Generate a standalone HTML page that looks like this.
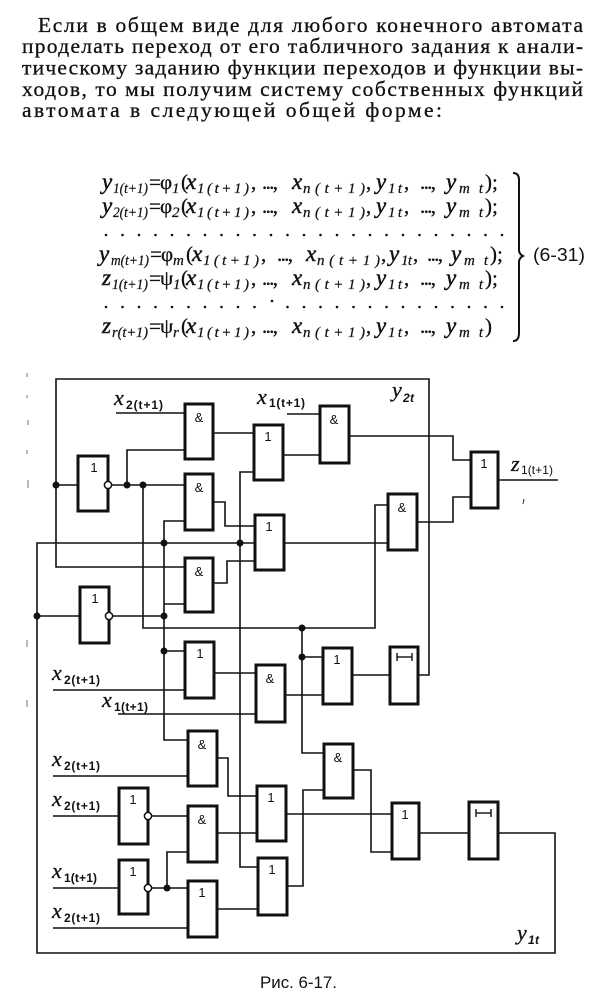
<!DOCTYPE html>
<html><head><meta charset="utf-8"><style>
html,body{margin:0;padding:0;background:#fff;}
svg{display:block;}
.t{font-family:"Liberation Serif",serif;font-size:21.5px;fill:#111;stroke:#111;stroke-width:0.3;}
.mi{font-family:"Liberation Serif",serif;font-style:italic;font-size:23px;fill:#111;stroke:#111;stroke-width:0.45;}
.mo{font-family:"Liberation Serif",serif;font-size:21px;fill:#111;stroke:#111;stroke-width:0.3;}
.sb{font-family:"Liberation Serif",serif;font-style:italic;font-size:15px;fill:#111;stroke:#111;stroke-width:0.25;}
.g{fill:none;stroke:#111;stroke-width:3;}
.w{fill:none;stroke:#111;stroke-width:1.6;}
.gl{font-family:"Liberation Sans",sans-serif;font-size:13px;fill:#111;text-anchor:middle;}
.lx{font-family:"Liberation Serif",serif;font-style:italic;font-size:22px;fill:#111;stroke:#111;stroke-width:0.3;}
.ls{font-family:"Liberation Sans",sans-serif;font-size:12px;font-weight:bold;fill:#111;}
.cap{font-family:"Liberation Sans",sans-serif;font-size:17px;fill:#111;}
</style></head><body>
<svg width="600" height="993" viewBox="0 0 600 993" xmlns="http://www.w3.org/2000/svg">
<rect width="600" height="993" fill="#fff"/>
<!-- paragraph -->
<text class="t" x="38" y="32" textLength="545" lengthAdjust="spacing">Если в общем виде для любого конечного автомата</text>
<text class="t" x="22" y="53" textLength="561" lengthAdjust="spacing">проделать переход от его табличного задания к анали-</text>
<text class="t" x="22" y="74.5" textLength="561" lengthAdjust="spacing">тическому заданию функции переходов и функции вы-</text>
<text class="t" x="22" y="96" textLength="561" lengthAdjust="spacing">ходов, то мы получим систему собственных функций</text>
<text class="t" x="22" y="117" textLength="420" lengthAdjust="spacing">автомата в следующей общей форме:</text>

<!-- formula row 1 -->
<g>
<text class="mi" x="102" y="189">y</text><text class="sb" x="113" y="193" textLength="35" lengthAdjust="spacingAndGlyphs">1(t+1)</text>
<text class="mo" x="149" y="189">=</text>
<text class="mo" x="160" y="189">φ</text><text class="sb" x="172" y="193">1</text>
<text class="mo" x="181" y="189">(</text>
<text class="mi" x="186" y="189">x</text><text class="sb" x="197" y="193" textLength="52" lengthAdjust="spacing">1(t+1)</text><text class="mo" x="251" y="189">,</text>
<text class="mo" x="262" y="189" textLength="16" lengthAdjust="spacing">...,</text>
<text class="mi" x="292" y="189">x</text><text class="sb" x="303" y="193" textLength="62" lengthAdjust="spacing">n(t+1)</text><text class="mo" x="366" y="189">,</text>
<text class="mi" x="376" y="189">y</text><text class="sb" x="388" y="193" textLength="14" lengthAdjust="spacing">1t</text><text class="mo" x="404" y="189">,</text>
<text class="mo" x="420" y="189" textLength="16" lengthAdjust="spacing">...,</text>
<text class="mi" x="446" y="189">y</text><text class="sb" x="459" y="193" textLength="24" lengthAdjust="spacing">mt</text><text class="mo" x="485" y="189">);</text>
</g>
<!-- row 2 -->
<g>
<text class="mi" x="102" y="213">y</text><text class="sb" x="113" y="217" textLength="35" lengthAdjust="spacingAndGlyphs">2(t+1)</text>
<text class="mo" x="149" y="213">=</text>
<text class="mo" x="160" y="213">φ</text><text class="sb" x="172" y="217">2</text>
<text class="mo" x="181" y="213">(</text>
<text class="mi" x="186" y="213">x</text><text class="sb" x="197" y="217" textLength="52" lengthAdjust="spacing">1(t+1)</text><text class="mo" x="251" y="213">,</text>
<text class="mo" x="262" y="213" textLength="16" lengthAdjust="spacing">...,</text>
<text class="mi" x="292" y="213">x</text><text class="sb" x="303" y="217" textLength="62" lengthAdjust="spacing">n(t+1)</text><text class="mo" x="366" y="213">,</text>
<text class="mi" x="376" y="213">y</text><text class="sb" x="388" y="217" textLength="14" lengthAdjust="spacing">1t</text><text class="mo" x="404" y="213">,</text>
<text class="mo" x="420" y="213" textLength="16" lengthAdjust="spacing">...,</text>
<text class="mi" x="446" y="213">y</text><text class="sb" x="459" y="217" textLength="24" lengthAdjust="spacing">mt</text><text class="mo" x="485" y="213">);</text>
</g>
<!-- dots row -->
<g fill="#111">
<circle cx="106" cy="235" r="1.3"/><circle cx="122.5" cy="235" r="1.3"/><circle cx="139" cy="235" r="1.3"/><circle cx="155.5" cy="235" r="1.3"/><circle cx="172" cy="235" r="1.3"/><circle cx="188.5" cy="235" r="1.3"/><circle cx="205" cy="235" r="1.3"/><circle cx="221.5" cy="235" r="1.3"/><circle cx="238" cy="235" r="1.3"/><circle cx="254.5" cy="235" r="1.3"/><circle cx="271" cy="235" r="1.3"/><circle cx="287.5" cy="235" r="1.3"/><circle cx="304" cy="235" r="1.3"/><circle cx="320.5" cy="235" r="1.3"/><circle cx="337" cy="235" r="1.3"/><circle cx="353.5" cy="235" r="1.3"/><circle cx="370" cy="235" r="1.3"/><circle cx="386.5" cy="235" r="1.3"/><circle cx="403" cy="235" r="1.3"/><circle cx="419.5" cy="235" r="1.3"/><circle cx="436" cy="235" r="1.3"/><circle cx="452.5" cy="235" r="1.3"/><circle cx="469" cy="235" r="1.3"/><circle cx="485.5" cy="235" r="1.3"/><circle cx="502" cy="235" r="1.3"/>
</g>
<!-- row m -->
<g>
<text class="mi" x="99" y="261">y</text><text class="sb" x="111" y="265" textLength="38" lengthAdjust="spacingAndGlyphs">m(t+1)</text>
<text class="mo" x="150" y="261">=</text>
<text class="mo" x="161" y="261">φ</text><text class="sb" x="173" y="265">m</text>
<text class="mo" x="186" y="261">(</text>
<text class="mi" x="192" y="261">x</text><text class="sb" x="203" y="265" textLength="56" lengthAdjust="spacing">1(t+1)</text><text class="mo" x="261" y="261">,</text>
<text class="mo" x="277" y="261" textLength="16" lengthAdjust="spacing">...,</text>
<text class="mi" x="306" y="261">x</text><text class="sb" x="317" y="265" textLength="63" lengthAdjust="spacing">n(t+1)</text><text class="mo" x="381" y="261">,</text>
<text class="mi" x="389" y="261">y</text><text class="sb" x="401" y="265" textLength="11" lengthAdjust="spacing">1t</text><text class="mo" x="413" y="261">,</text>
<text class="mo" x="427" y="261" textLength="16" lengthAdjust="spacing">...,</text>
<text class="mi" x="451" y="261">y</text><text class="sb" x="464" y="265" textLength="24" lengthAdjust="spacing">mt</text><text class="mo" x="490" y="261">);</text>
</g>
<!-- row z1 -->
<g>
<text class="mi" x="102" y="285">z</text><text class="sb" x="112" y="289" textLength="36" lengthAdjust="spacingAndGlyphs">1(t+1)</text>
<text class="mo" x="149" y="285">=</text>
<text class="mo" x="160" y="285">ψ</text><text class="sb" x="173" y="289">1</text>
<text class="mo" x="181" y="285">(</text>
<text class="mi" x="186" y="285">x</text><text class="sb" x="197" y="289" textLength="52" lengthAdjust="spacing">1(t+1)</text><text class="mo" x="251" y="285">,</text>
<text class="mo" x="262" y="285" textLength="16" lengthAdjust="spacing">...,</text>
<text class="mi" x="292" y="285">x</text><text class="sb" x="303" y="289" textLength="62" lengthAdjust="spacing">n(t+1)</text><text class="mo" x="366" y="285">,</text>
<text class="mi" x="376" y="285">y</text><text class="sb" x="388" y="289" textLength="14" lengthAdjust="spacing">1t</text><text class="mo" x="404" y="285">,</text>
<text class="mo" x="420" y="285" textLength="16" lengthAdjust="spacing">...,</text>
<text class="mi" x="446" y="285">y</text><text class="sb" x="459" y="289" textLength="24" lengthAdjust="spacing">mt</text><text class="mo" x="485" y="285">);</text>
</g>
<!-- dots row 2 -->
<g fill="#111">
<circle cx="106" cy="307" r="1.3"/><circle cx="122.5" cy="307" r="1.3"/><circle cx="139" cy="307" r="1.3"/><circle cx="155.5" cy="307" r="1.3"/><circle cx="172" cy="307" r="1.3"/><circle cx="188.5" cy="307" r="1.3"/><circle cx="205" cy="307" r="1.3"/><circle cx="221.5" cy="307" r="1.3"/><circle cx="238" cy="307" r="1.3"/><circle cx="254.5" cy="307" r="1.3"/><circle cx="272" cy="301" r="1.3"/><circle cx="287.5" cy="307" r="1.3"/><circle cx="304" cy="307" r="1.3"/><circle cx="320.5" cy="307" r="1.3"/><circle cx="337" cy="307" r="1.3"/><circle cx="353.5" cy="307" r="1.3"/><circle cx="370" cy="307" r="1.3"/><circle cx="386.5" cy="307" r="1.3"/><circle cx="403" cy="307" r="1.3"/><circle cx="419.5" cy="307" r="1.3"/><circle cx="436" cy="307" r="1.3"/><circle cx="452.5" cy="307" r="1.3"/><circle cx="469" cy="307" r="1.3"/><circle cx="485.5" cy="307" r="1.3"/><circle cx="502" cy="307" r="1.3"/>
</g>
<!-- row zr -->
<g>
<text class="mi" x="102" y="333">z</text><text class="sb" x="112" y="337" textLength="36" lengthAdjust="spacingAndGlyphs">r(t+1)</text>
<text class="mo" x="149" y="333">=</text>
<text class="mo" x="160" y="333">ψ</text><text class="sb" x="173" y="337">r</text>
<text class="mo" x="181" y="333">(</text>
<text class="mi" x="186" y="333">x</text><text class="sb" x="197" y="337" textLength="52" lengthAdjust="spacing">1(t+1)</text><text class="mo" x="251" y="333">,</text>
<text class="mo" x="262" y="333" textLength="16" lengthAdjust="spacing">...,</text>
<text class="mi" x="292" y="333">x</text><text class="sb" x="303" y="337" textLength="62" lengthAdjust="spacing">n(t+1)</text><text class="mo" x="366" y="333">,</text>
<text class="mi" x="376" y="333">y</text><text class="sb" x="388" y="337" textLength="14" lengthAdjust="spacing">1t</text><text class="mo" x="404" y="333">,</text>
<text class="mo" x="420" y="333" textLength="16" lengthAdjust="spacing">...,</text>
<text class="mi" x="446" y="333">y</text><text class="sb" x="459" y="337" textLength="24" lengthAdjust="spacing">mt</text><text class="mo" x="485" y="333">)</text>
</g>
<!-- brace -->
<path d="M513,173 Q519,173 519,180 L519,250 Q519,254 523,256 Q519,258 519,262 L519,333 Q519,341 513,341" fill="none" stroke="#111" stroke-width="2"/>
<text class="cap" x="533" y="261" textLength="52" lengthAdjust="spacingAndGlyphs" style="font-size:18px">(6-31)</text>

<!-- ===== circuit ===== -->
<g class="w">
<polyline points="418,675 429,675 429,379 56,379 56,567 185,567"/>
<line x1="56" y1="485" x2="78" y2="485"/>
<line x1="112" y1="485" x2="185" y2="485"/>
<polyline points="127,485 127,450 185,450"/>
<line x1="116" y1="413" x2="185" y2="413"/>
<line x1="213" y1="433" x2="254" y2="433"/>
<line x1="283" y1="455" x2="320" y2="455"/>
<line x1="287" y1="414" x2="320" y2="414"/>
<polyline points="254,472 240,472 240,867 258,867"/>
<polyline points="185,521 164,521 164,740 188,740"/>
<polyline points="213,502 225,502 225,526 255,526"/>
<polyline points="255,543 37,543 37,953 555,953 555,833 498,833"/>
<line x1="37" y1="616" x2="80" y2="616"/>
<line x1="113" y1="616" x2="164" y2="616"/>
<line x1="164" y1="604" x2="185" y2="604"/>
<polyline points="213,583 227,583 227,561 255,561"/>
<line x1="284" y1="543" x2="388" y2="543"/>
<polyline points="143,485 143,628 375,628 375,505 388,505"/>
<polyline points="302,628 302,753 324,753"/>
<line x1="302" y1="657" x2="323" y2="657"/>
<line x1="164" y1="651" x2="185" y2="651"/>
<line x1="53" y1="690" x2="185" y2="690"/>
<line x1="214" y1="673" x2="256" y2="673"/>
<line x1="118" y1="714" x2="256" y2="714"/>
<line x1="285" y1="695" x2="323" y2="695"/>
<line x1="352" y1="675" x2="390" y2="675"/>
<polyline points="417,522 453,522 453,497 471,497"/>
<polyline points="349,436 453,436 453,460 471,460"/>
<line x1="498" y1="480" x2="558" y2="480"/>
<line x1="53" y1="776" x2="188" y2="776"/>
<polyline points="217,758 228,758 228,796 257,796"/>
<line x1="53" y1="816" x2="119" y2="816"/>
<line x1="152" y1="816" x2="188" y2="816"/>
<line x1="217" y1="833" x2="257" y2="833"/>
<line x1="286" y1="814" x2="392" y2="814"/>
<polyline points="353,770 371,770 371,852 392,852"/>
<polyline points="324,790 303,790 303,886 287,886"/>
<line x1="419" y1="833" x2="469" y2="833"/>
<line x1="53" y1="888" x2="119" y2="888"/>
<line x1="152" y1="888" x2="188" y2="888"/>
<polyline points="167,888 167,852 188,852"/>
<line x1="217" y1="909" x2="258" y2="909"/>
<line x1="53" y1="928" x2="188" y2="928"/>
</g>

<!-- gates -->
<g class="g">
<rect x="78" y="456" width="30" height="55" fill="#fff"/>
<rect x="185" y="404" width="28" height="55" fill="#fff"/>
<rect x="254" y="425" width="29" height="55" fill="#fff"/>
<rect x="320" y="406" width="29" height="57" fill="#fff"/>
<rect x="185" y="474" width="28" height="56" fill="#fff"/>
<rect x="255" y="515" width="29" height="55" fill="#fff"/>
<rect x="388" y="494" width="29" height="56" fill="#fff"/>
<rect x="471" y="452" width="27" height="56" fill="#fff"/>
<rect x="185" y="558" width="28" height="54" fill="#fff"/>
<rect x="80" y="587" width="29" height="56" fill="#fff"/>
<rect x="185" y="642" width="29" height="56" fill="#fff"/>
<rect x="256" y="665" width="29" height="57" fill="#fff"/>
<rect x="323" y="648" width="29" height="56" fill="#fff"/>
<rect x="390" y="647" width="28" height="57" fill="#fff"/>
<rect x="188" y="731" width="29" height="55" fill="#fff"/>
<rect x="119" y="788" width="29" height="56" fill="#fff"/>
<rect x="188" y="806" width="29" height="56" fill="#fff"/>
<rect x="257" y="786" width="29" height="55" fill="#fff"/>
<rect x="324" y="744" width="29" height="54" fill="#fff"/>
<rect x="392" y="803" width="27" height="56" fill="#fff"/>
<rect x="469" y="802" width="29" height="57" fill="#fff"/>
<rect x="119" y="860" width="29" height="54" fill="#fff"/>
<rect x="188" y="881" width="29" height="56" fill="#fff"/>
<rect x="258" y="858" width="29" height="57" fill="#fff"/>
</g>

<!-- gate labels -->
<g>
<text class="gl" x="94" y="472">1</text>
<text class="gl" x="199" y="422">&amp;</text>
<text class="gl" x="268" y="441">1</text>
<text class="gl" x="334" y="424">&amp;</text>
<text class="gl" x="199" y="492">&amp;</text>
<text class="gl" x="269" y="531">1</text>
<text class="gl" x="402" y="512">&amp;</text>
<text class="gl" x="484" y="468">1</text>
<text class="gl" x="199" y="576">&amp;</text>
<text class="gl" x="95" y="603">1</text>
<text class="gl" x="200" y="658">1</text>
<text class="gl" x="270" y="683">&amp;</text>
<text class="gl" x="337" y="664">1</text>
<text class="gl" x="202" y="749">&amp;</text>
<text class="gl" x="133" y="804">1</text>
<text class="gl" x="202" y="824">&amp;</text>
<text class="gl" x="271" y="802">1</text>
<text class="gl" x="338" y="762">&amp;</text>
<text class="gl" x="405" y="819">1</text>
<text class="gl" x="133" y="876">1</text>
<text class="gl" x="202" y="897">1</text>
<text class="gl" x="272" y="874">1</text>
</g>
<!-- delay symbols -->
<g class="w" style="stroke-width:1.4">
<line x1="397" y1="657" x2="412" y2="657"/><line x1="397" y1="653" x2="397" y2="661"/><line x1="412" y1="653" x2="412" y2="661"/>
<line x1="476" y1="813" x2="491" y2="813"/><line x1="476" y1="809" x2="476" y2="817"/><line x1="491" y1="809" x2="491" y2="817"/>
</g>

<!-- nodes -->
<g fill="#111">
<circle cx="56" cy="485" r="3.5"/><circle cx="127" cy="485" r="3.5"/><circle cx="143" cy="485" r="3.5"/>
<circle cx="164" cy="543" r="3.5"/><circle cx="240" cy="543" r="3.5"/><circle cx="37" cy="616" r="3.5"/>
<circle cx="164" cy="616" r="3.5"/><circle cx="164" cy="651" r="3.5"/><circle cx="302" cy="628" r="3.5"/>
<circle cx="302" cy="657" r="3.5"/><circle cx="167" cy="888" r="3.5"/>
</g>
<g fill="#fff" stroke="#111" stroke-width="1.5">
<circle cx="108" cy="485" r="3.6"/><circle cx="109" cy="616" r="3.6"/><circle cx="148" cy="816" r="3.6"/><circle cx="148" cy="888" r="3.6"/>
</g>

<!-- input labels -->
<g>
<text class="lx" x="114" y="405">x</text><text class="ls" x="126" y="409" textLength="37" lengthAdjust="spacing">2(t+1)</text>
<text class="lx" x="257" y="404">x</text><text class="ls" x="269" y="407" textLength="36" lengthAdjust="spacing">1(t+1)</text>
<text class="lx" x="392" y="397">y</text><text class="ls" x="403" y="402" textLength="11" lengthAdjust="spacing" style="font-style:italic">2t</text>
<text class="lx" x="511" y="471">z</text><text class="ls" x="521" y="474" textLength="32" lengthAdjust="spacing" style="font-weight:normal">1(t+1)</text>
<text class="lx" x="52" y="680">x</text><text class="ls" x="64" y="684" textLength="36" lengthAdjust="spacing">2(t+1)</text>
<text class="lx" x="102" y="707">x</text><text class="ls" x="114" y="711" textLength="34" lengthAdjust="spacing">1(t+1)</text>
<text class="lx" x="52" y="766">x</text><text class="ls" x="64" y="770" textLength="36" lengthAdjust="spacing">2(t+1)</text>
<text class="lx" x="52" y="806">x</text><text class="ls" x="64" y="810" textLength="36" lengthAdjust="spacing">2(t+1)</text>
<text class="lx" x="52" y="878">x</text><text class="ls" x="64" y="882" textLength="33" lengthAdjust="spacing">1(t+1)</text>
<text class="lx" x="52" y="918">x</text><text class="ls" x="64" y="922" textLength="36" lengthAdjust="spacing">2(t+1)</text>
<text class="lx" x="517" y="940">y</text><text class="ls" x="528" y="944" textLength="11" lengthAdjust="spacing" style="font-style:italic">1t</text>
</g>
<line x1="524" y1="499" x2="523" y2="504" stroke="#333" stroke-width="1"/>
<!-- scan specks -->
<g stroke="#777" stroke-width="1">
<line x1="27" y1="373" x2="27" y2="377"/><line x1="27" y1="395" x2="27" y2="398"/><line x1="28" y1="420" x2="28" y2="425"/>
<line x1="27" y1="450" x2="27" y2="454"/><line x1="28" y1="480" x2="28" y2="488"/><line x1="27" y1="640" x2="27" y2="647"/><line x1="27" y1="700" x2="27" y2="707"/>
</g>

<!-- caption -->
<text class="cap" x="260" y="988" textLength="77" lengthAdjust="spacingAndGlyphs">Рис. 6-17.</text>
</svg>
</body></html>
